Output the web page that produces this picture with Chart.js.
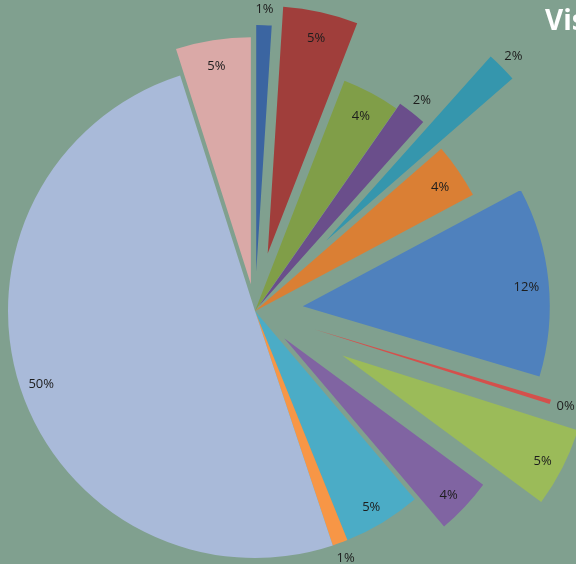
<!DOCTYPE html>
<html>
<head>
<meta charset="utf-8">
<script src="https://cdn.jsdelivr.net/npm/chart.js@4.4.1/dist/chart.umd.min.js"></script>
<style>
  html, body { margin: 0; padding: 0; }
  body { width: 576px; height: 564px; overflow: hidden; background: #80a08f; position: relative; }
  #wrap { position: absolute; left: 0; top: 0; width: 576px; height: 564px; }
  #title { position: absolute; left: 545px; top: 0px; font: bold 28px "Open Sans", sans-serif; color: #ffffff; white-space: nowrap; }
</style>
</head>
<body>
<div id="wrap"><canvas id="pie"></canvas></div>
<div id="title">Visitors</div>
<script>
// slices, clockwise from 12 o'clock
const categories = ['Item 1', 'Item 2', 'Item 3', 'Item 4', 'Item 5', 'Item 6', 'Item 7',
                    'Item 8', 'Item 9', 'Item 10', 'Item 11', 'Item 12', 'Item 13', 'Item 14'];
const shares = [1.0, 4.9, 3.8, 1.9, 2.0, 3.6, 12.4, 0.3, 5.2, 3.7, 5.1, 1.0, 50.2, 4.9];
const explode = [39, 59, 0, 6, 100, 0, 48, 62, 98, 40, 0, 0, 0, 27]; // px each slice is pulled out
const colors = ['#3b65a1', '#a03e3b', '#809e48', '#6a4e8b', '#3596ad', '#da7f34', '#4f81bd',
                '#d4504c', '#9bbb59', '#8064a2', '#4bacc6', '#f79646', '#a9bad9', '#daa9a7'];

// arc that is moved out by the full offset without growing its radius
class ExplodedArc extends Chart.ArcElement {
  static id = 'explodedArc';
  draw(ctx) {
    const shift = this.options.offset || 0;
    const mid = (this.startAngle + this.endAngle) / 2;
    const flat = Object.create(this);
    flat.options = Object.assign({}, this.options, { offset: 0 });
    ctx.save();
    ctx.translate(Math.cos(mid) * shift, Math.sin(mid) * shift);
    super.draw.call(flat, ctx);
    ctx.restore();
  }
}
class ExplodedPie extends Chart.PieController {
  static id = 'explodedPie';
  static defaults = { dataElementType: 'explodedArc' };
}
Chart.register(ExplodedArc, ExplodedPie);

const sliceLabels = {
  id: 'sliceLabels',
  afterDatasetsDraw(chart) {
    const ctx = chart.ctx;
    const meta = chart.getDatasetMeta(0);
    const total = shares.reduce((a, b) => a + b, 0);
    ctx.save();
    ctx.font = '13px "Open Sans", sans-serif';
    ctx.fillStyle = '#1d1d1d';
    ctx.textAlign = 'center';
    ctx.textBaseline = 'middle';
    meta.data.forEach((arc, i) => {
      const pct = shares[i] / total * 100;
      const mid = (arc.startAngle + arc.endAngle) / 2;
      const outside = pct < 2.5;
      const d = outside ? explode[i] + arc.outerRadius + 16 : explode[i] + arc.outerRadius * 0.91;
      const dy = outside ? 0 : 4;
      ctx.fillText(Math.round(pct) + '%', arc.x + Math.cos(mid) * d, arc.y + Math.sin(mid) * d + dy);
    });
    ctx.restore();
  }
};

new Chart(document.getElementById('pie'), {
  type: 'explodedPie',
  data: {
    labels: categories,
    datasets: [{
      data: shares,
      backgroundColor: colors,
      borderWidth: 0,
      offset: explode,
      radius: 247
    }]
  },
  options: {
    responsive: true,
    maintainAspectRatio: false,
    animation: false,
    events: [],
    layout: { padding: { left: 0, right: 66, top: 58, bottom: 0 } },
    plugins: {
      legend: { display: false },
      tooltip: { enabled: false },
      title: { display: false }
    }
  },
  plugins: [sliceLabels]
});
</script>
</body>
</html>
